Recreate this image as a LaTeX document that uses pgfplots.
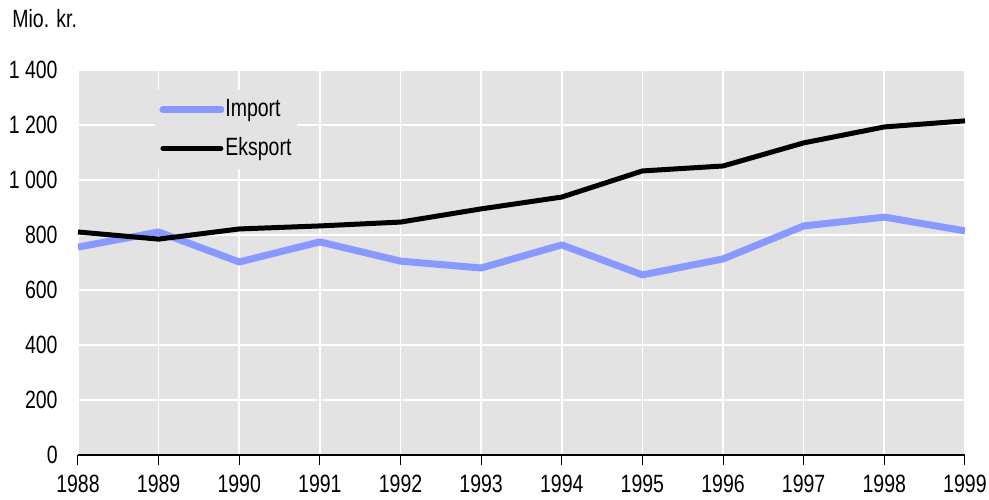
\documentclass[border=0pt]{standalone}
\usepackage{pgfplots}
\pgfplotsset{compat=1.18}
\usepackage{fontspec}
\setmainfont[FakeStretch=0.78]{Liberation Sans}
\definecolor{bg}{HTML}{E3E3E3}
\definecolor{imp}{HTML}{8A99FF}
\begin{document}
\begin{tikzpicture}
\useasboundingbox (-39pt,-22pt) rectangle (455.5pt,227.5pt);
\begin{axis}[
  at={(0,0)}, anchor=south west,
  scale only axis, width=443.5pt, height=192.5pt,
  xmin=1988, xmax=1999, ymin=0, ymax=1400,
  xtick={1988,...,1999}, ytick={0,200,...,1400},
  axis background/.style={fill=bg},
  axis x line=bottom, axis y line=left,
  x axis line style={-, black, line width=0.6pt},
  y axis line style={draw=none},
  ytick style={draw=none},
  xtick style={black, line width=0.5pt},
  tick align=outside, major tick length=5pt,
  grid=major, major grid style={white, line width=0.8pt},
  font=\fontsize{12.5}{15}\selectfont,
  /pgf/number format/assume math mode=true,
  /pgf/number format/1000 sep={\ },
  x tick label style={/pgf/number format/1000 sep={}, anchor=base, inner sep=0pt, yshift=-13.5pt},
  y tick label style={anchor=east, inner sep=0pt, xshift=-5pt},
  legend style={draw=none, fill=bg, at={(0.0868,0.95)}, anchor=north west,
    inner xsep=2pt, inner ysep=3pt, row sep=5pt, font=\fontsize{12.5}{15}\selectfont,
    nodes={inner xsep=0.5pt}},
  legend cell align=left,
  legend image code/.code={\draw[#1, line cap=round] (0pt,0pt) -- (29pt,0pt);},
]
\addplot[imp, line width=3.5pt, line join=round] coordinates {
(1988,756) (1989,811) (1990,702) (1991,775) (1992,705) (1993,680)
(1994,764) (1995,655) (1996,713) (1997,833) (1998,865) (1999,815)};
\addlegendentry{Import}
\addplot[black, line width=2.5pt, line join=round] coordinates {
(1988,811) (1989,785) (1990,822) (1991,833) (1992,847) (1993,895)
(1994,938) (1995,1033) (1996,1051) (1997,1135) (1998,1193) (1999,1215)};
\addlegendentry{Eksport}
\end{axis}
\node[anchor=base west, inner sep=0pt, font=\fontsize{12.5}{15}\selectfont] at (-33pt,213.5pt) {Mio. kr.};
\end{tikzpicture}
\end{document}
